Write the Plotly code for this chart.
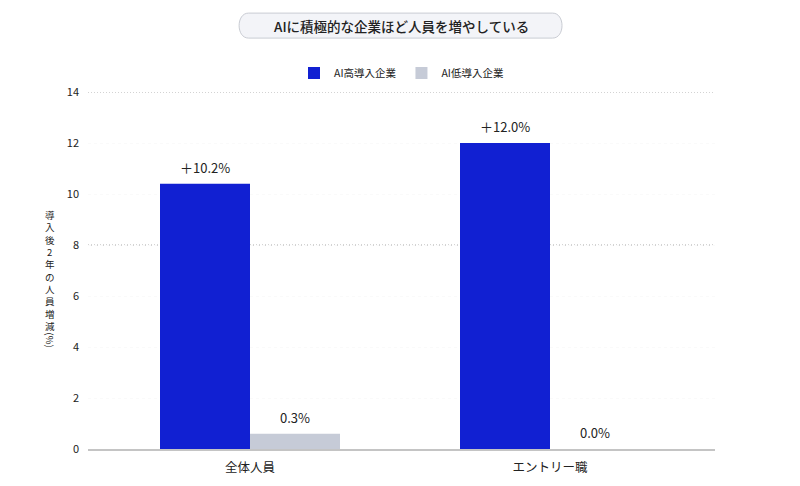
import plotly.graph_objects as go

FONT = "Noto Sans CJK JP"

# data
categories = ["全体人員", "エントリー職"]
high_values = [10.4, 12.0]
low_values = [0.6, 0.0]
high_labels = ["＋10.2%", "＋12.0%"]
low_labels = ["0.3%", "0.0%"]
y_ticks = [0, 2, 4, 6, 8, 10, 12, 14]
dotted_ticks = [8, 14]

BLUE = "#1120d2"
GRAY = "#c6cbd7"
TEXT = "#222222"

# the page has an 8px body margin, so margins are shifted to compensate
PLOT_H = 357

fig = go.Figure()
fig.add_trace(go.Bar(x=categories, y=high_values, name="AI高導入企業",
                     marker=dict(color=BLUE, line=dict(width=0))))
fig.add_trace(go.Bar(x=categories, y=low_values, name="AI低導入企業",
                     marker=dict(color=GRAY, line=dict(width=0))))

# value labels above the bars
annotations = []
for series, labels, shift in ((high_values, high_labels, -0.15), (low_values, low_labels, 0.15)):
    for cat_i, (v, lab) in enumerate(zip(series, labels)):
        annotations.append(dict(
            x=cat_i + shift, y=v, xref="x", yref="y", text=lab, showarrow=False,
            yanchor="bottom", yshift=5, font=dict(family=FONT, size=13, color=TEXT)))

# y axis title, written vertically (one character per line)
annotations.append(dict(
    x=-0.06, y=(449 - 270) / PLOT_H, xref="paper", yref="paper", showarrow=False,
    text="<br>".join("導入後2年の人員増減"), yanchor="middle", xanchor="center",
    font=dict(family=FONT, size=9.5, color=TEXT)))
annotations.append(dict(
    x=-0.06, y=(449 - 340) / PLOT_H, xref="paper", yref="paper", showarrow=False,
    text="(%)", textangle=90, yanchor="middle", xanchor="center",
    font=dict(family=FONT, size=9.5, color=TEXT)))

# title inside a rounded pill
annotations.append(dict(
    x=0.5, y=1.186, xref="paper", yref="paper", showarrow=False,
    text="AIに積極的な企業ほど人員を増やしている",
    font=dict(family=FONT, size=13.5, color=TEXT, weight=500), yanchor="middle"))

x0, x1, y0, y1 = 0.236, 0.761, 1.151, 1.221
rx = 0.02
pill = (f"M {x0+rx},{y0} L {x1-rx},{y0} C {x1},{y0} {x1},{y1} {x1-rx},{y1} "
        f"L {x0+rx},{y1} C {x0},{y1} {x0},{y0} {x0+rx},{y0} Z")

shapes = [dict(type="path", path=pill, xref="paper", yref="paper",
               fillcolor="#f3f4f8", line=dict(color="#c9ccd3", width=1), layer="below")]
for v in dotted_ticks:
    shapes.append(dict(type="line", xref="paper", x0=0, x1=1, yref="y", y0=v, y1=v,
                       line=dict(color="#a8a8a8", width=1, dash="1px,2px"), layer="below"))

fig.update_layout(
    width=800, height=486,
    margin=dict(l=80, r=93, t=84, b=45),
    paper_bgcolor="white", plot_bgcolor="white",
    font=dict(family=FONT, color=TEXT),
    barmode="group", bargap=0.4, bargroupgap=0,
    showlegend=True,
    legend=dict(orientation="h", x=0.5, xanchor="center", y=1.053, yanchor="middle",
                font=dict(family=FONT, size=10.5, color=TEXT), itemwidth=30,
                traceorder="normal"),
    annotations=annotations,
    shapes=shapes,
    xaxis=dict(range=[-0.54, 1.55], showgrid=False, zeroline=False,
               showline=True, linecolor="#c4c4c4", linewidth=1.5,
               tickfont=dict(family=FONT, size=12.5, color=TEXT), ticks="",
               ticklabelstandoff=6),
    yaxis=dict(range=[0, 14], tickvals=y_ticks, showgrid=True, gridcolor="#fafafa",
               griddash="dot", zeroline=False, showline=False, ticks="",
               tickfont=dict(family=FONT, size=11, color=TEXT), ticklabelstandoff=8),
)

fig.write_html("out.html")
